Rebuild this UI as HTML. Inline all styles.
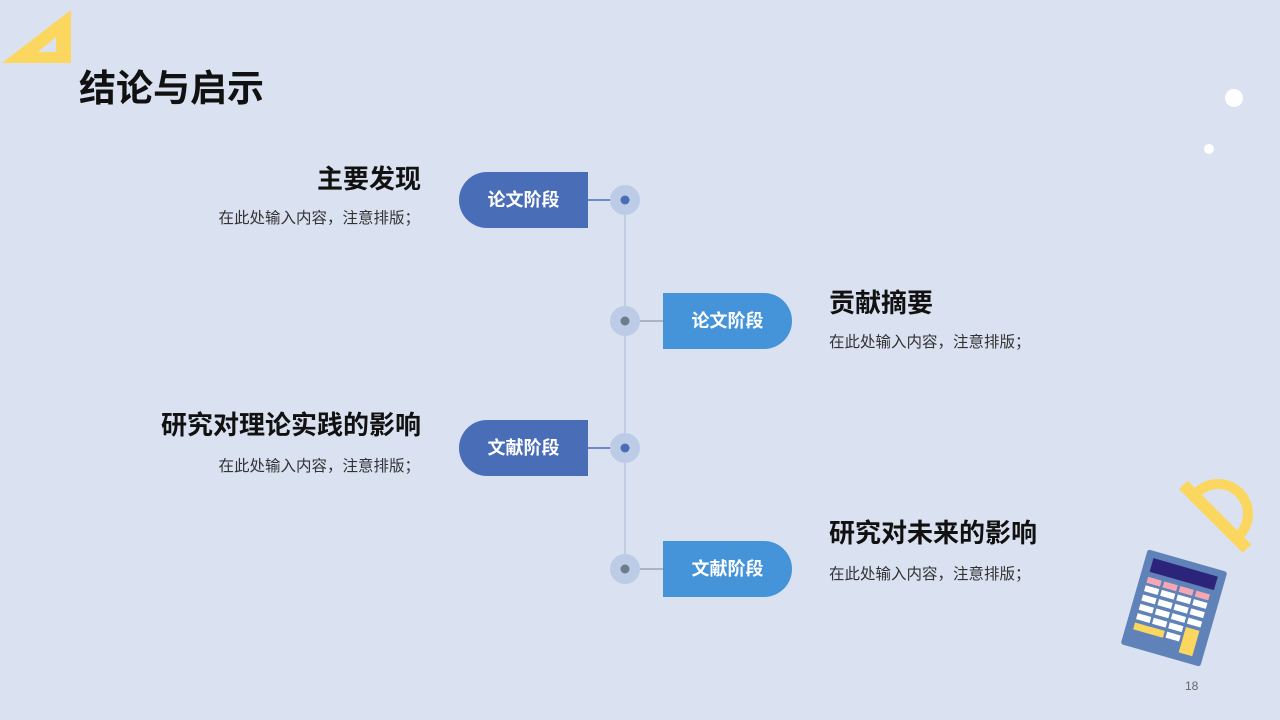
<!DOCTYPE html>
<html><head><meta charset="utf-8">
<style>
body{margin:0;}
#s{position:relative;width:1280px;height:720px;background:#dae1f0;overflow:hidden;font-family:"Liberation Sans","Noto Sans CJK SC",sans-serif;}
.t{position:absolute;white-space:nowrap;}
.h{font-size:26px;font-weight:bold;color:#111;}
.d{font-size:15.5px;color:#333;}
.pill{position:absolute;width:129px;height:56px;color:#fff;font-weight:bold;font-size:18px;line-height:56px;text-align:center;}
.L{background:#4a6db8;border-radius:28px 0 0 28px;}
.R{background:#4593d8;border-radius:0 28px 28px 0;}
</style></head><body><div id="s">
<svg width="1280" height="720" style="position:absolute;left:0;top:0">
<polygon points="2,63 71,10 71,63" fill="#fcd75f"/>
<polygon points="38,52 56,37 56,52" fill="#dae1f0"/>
<circle cx="1234" cy="98" r="9" fill="#fff"/>
<circle cx="1209" cy="149" r="5" fill="#fff"/>
<line x1="625" y1="200" x2="625" y2="569" stroke="#b8c7e0" stroke-width="1.5"/>
<line x1="588" y1="200" x2="625" y2="200" stroke="#4a6db8" stroke-width="1.5"/>
<line x1="588" y1="448" x2="625" y2="448" stroke="#4a6db8" stroke-width="1.5"/>
<line x1="625" y1="321" x2="663" y2="321" stroke="#9aa6b6" stroke-width="1.5"/>
<line x1="625" y1="569" x2="663" y2="569" stroke="#9aa6b6" stroke-width="1.5"/>
<g fill="#bccbe6"><circle cx="625" cy="200" r="15"/><circle cx="625" cy="321" r="15"/><circle cx="625" cy="448" r="15"/><circle cx="625" cy="569" r="15"/></g>
<circle cx="625" cy="200" r="4.5" fill="#4a6db8"/>
<circle cx="625" cy="321" r="4.5" fill="#6f7c8c"/>
<circle cx="625" cy="448" r="4.5" fill="#4a6db8"/>
<circle cx="625" cy="569" r="4.5" fill="#6f7c8c"/>
<g transform="translate(1218,514) rotate(45)">
<path d="M-35,0 A35,35 0 0 1 35,0 L25,0 A25,25 0 0 0 -25,0 Z" fill="#fcd75f"/>
<rect x="-45" y="-2" width="90" height="12" fill="#fcd75f"/>
</g>
<g transform="translate(1174,608) rotate(16) scale(0.88)">
<rect x="-47" y="-56" width="94" height="112" rx="3" fill="#5f82b8"/>
<rect x="-38" y="-48" width="76" height="16" fill="#2c237a"/>
<g fill="#f7a6b4"><rect x="-38" y="-26" width="16" height="7"/><rect x="-19" y="-26" width="16" height="7"/><rect x="0" y="-26" width="16" height="7"/><rect x="19" y="-26" width="16" height="7"/></g>
<g fill="#fff">
<rect x="-38" y="-16" width="16" height="7"/><rect x="-19" y="-16" width="16" height="7"/><rect x="0" y="-16" width="16" height="7"/><rect x="19" y="-16" width="16" height="7"/>
<rect x="-38" y="-5" width="16" height="7"/><rect x="-19" y="-5" width="16" height="7"/><rect x="0" y="-5" width="16" height="7"/><rect x="19" y="-5" width="16" height="7"/>
<rect x="-38" y="6" width="16" height="7"/><rect x="-19" y="6" width="16" height="7"/><rect x="0" y="6" width="16" height="7"/><rect x="19" y="6" width="16" height="7"/>
<rect x="-38" y="17" width="16" height="7"/><rect x="-19" y="17" width="16" height="7"/><rect x="0" y="17" width="16" height="7"/>
<rect x="-19" y="28" width="16" height="7"/><rect x="0" y="28" width="16" height="7"/>
</g>
<g fill="#fcd75f"><rect x="-38" y="28" width="35" height="8"/><rect x="19" y="17" width="16" height="30"/></g>
</g>
</svg>
<div class="t" style="left:79px;top:58px;font-size:37px;font-weight:bold;color:#111;">结论与启示</div>
<div class="pill L" style="left:459px;top:172px">论文阶段</div>
<div class="pill R" style="left:663px;top:293px">论文阶段</div>
<div class="pill L" style="left:459px;top:420px">文献阶段</div>
<div class="pill R" style="left:663px;top:541px">文献阶段</div>
<div class="t h" style="right:859px;top:159px">主要发现</div>
<div class="t d" style="right:860px;top:206px">在此处输入内容，注意排版；</div>
<div class="t h" style="left:829px;top:283px">贡献摘要</div>
<div class="t d" style="left:829px;top:330px">在此处输入内容，注意排版；</div>
<div class="t h" style="right:859px;top:405px">研究对理论实践的影响</div>
<div class="t d" style="right:860px;top:454px">在此处输入内容，注意排版；</div>
<div class="t h" style="left:829px;top:513px">研究对未来的影响</div>
<div class="t d" style="left:829px;top:562px">在此处输入内容，注意排版；</div>
<div class="t" style="left:1185px;top:679px;font-size:12px;color:#666">18</div>
</div></body></html>
